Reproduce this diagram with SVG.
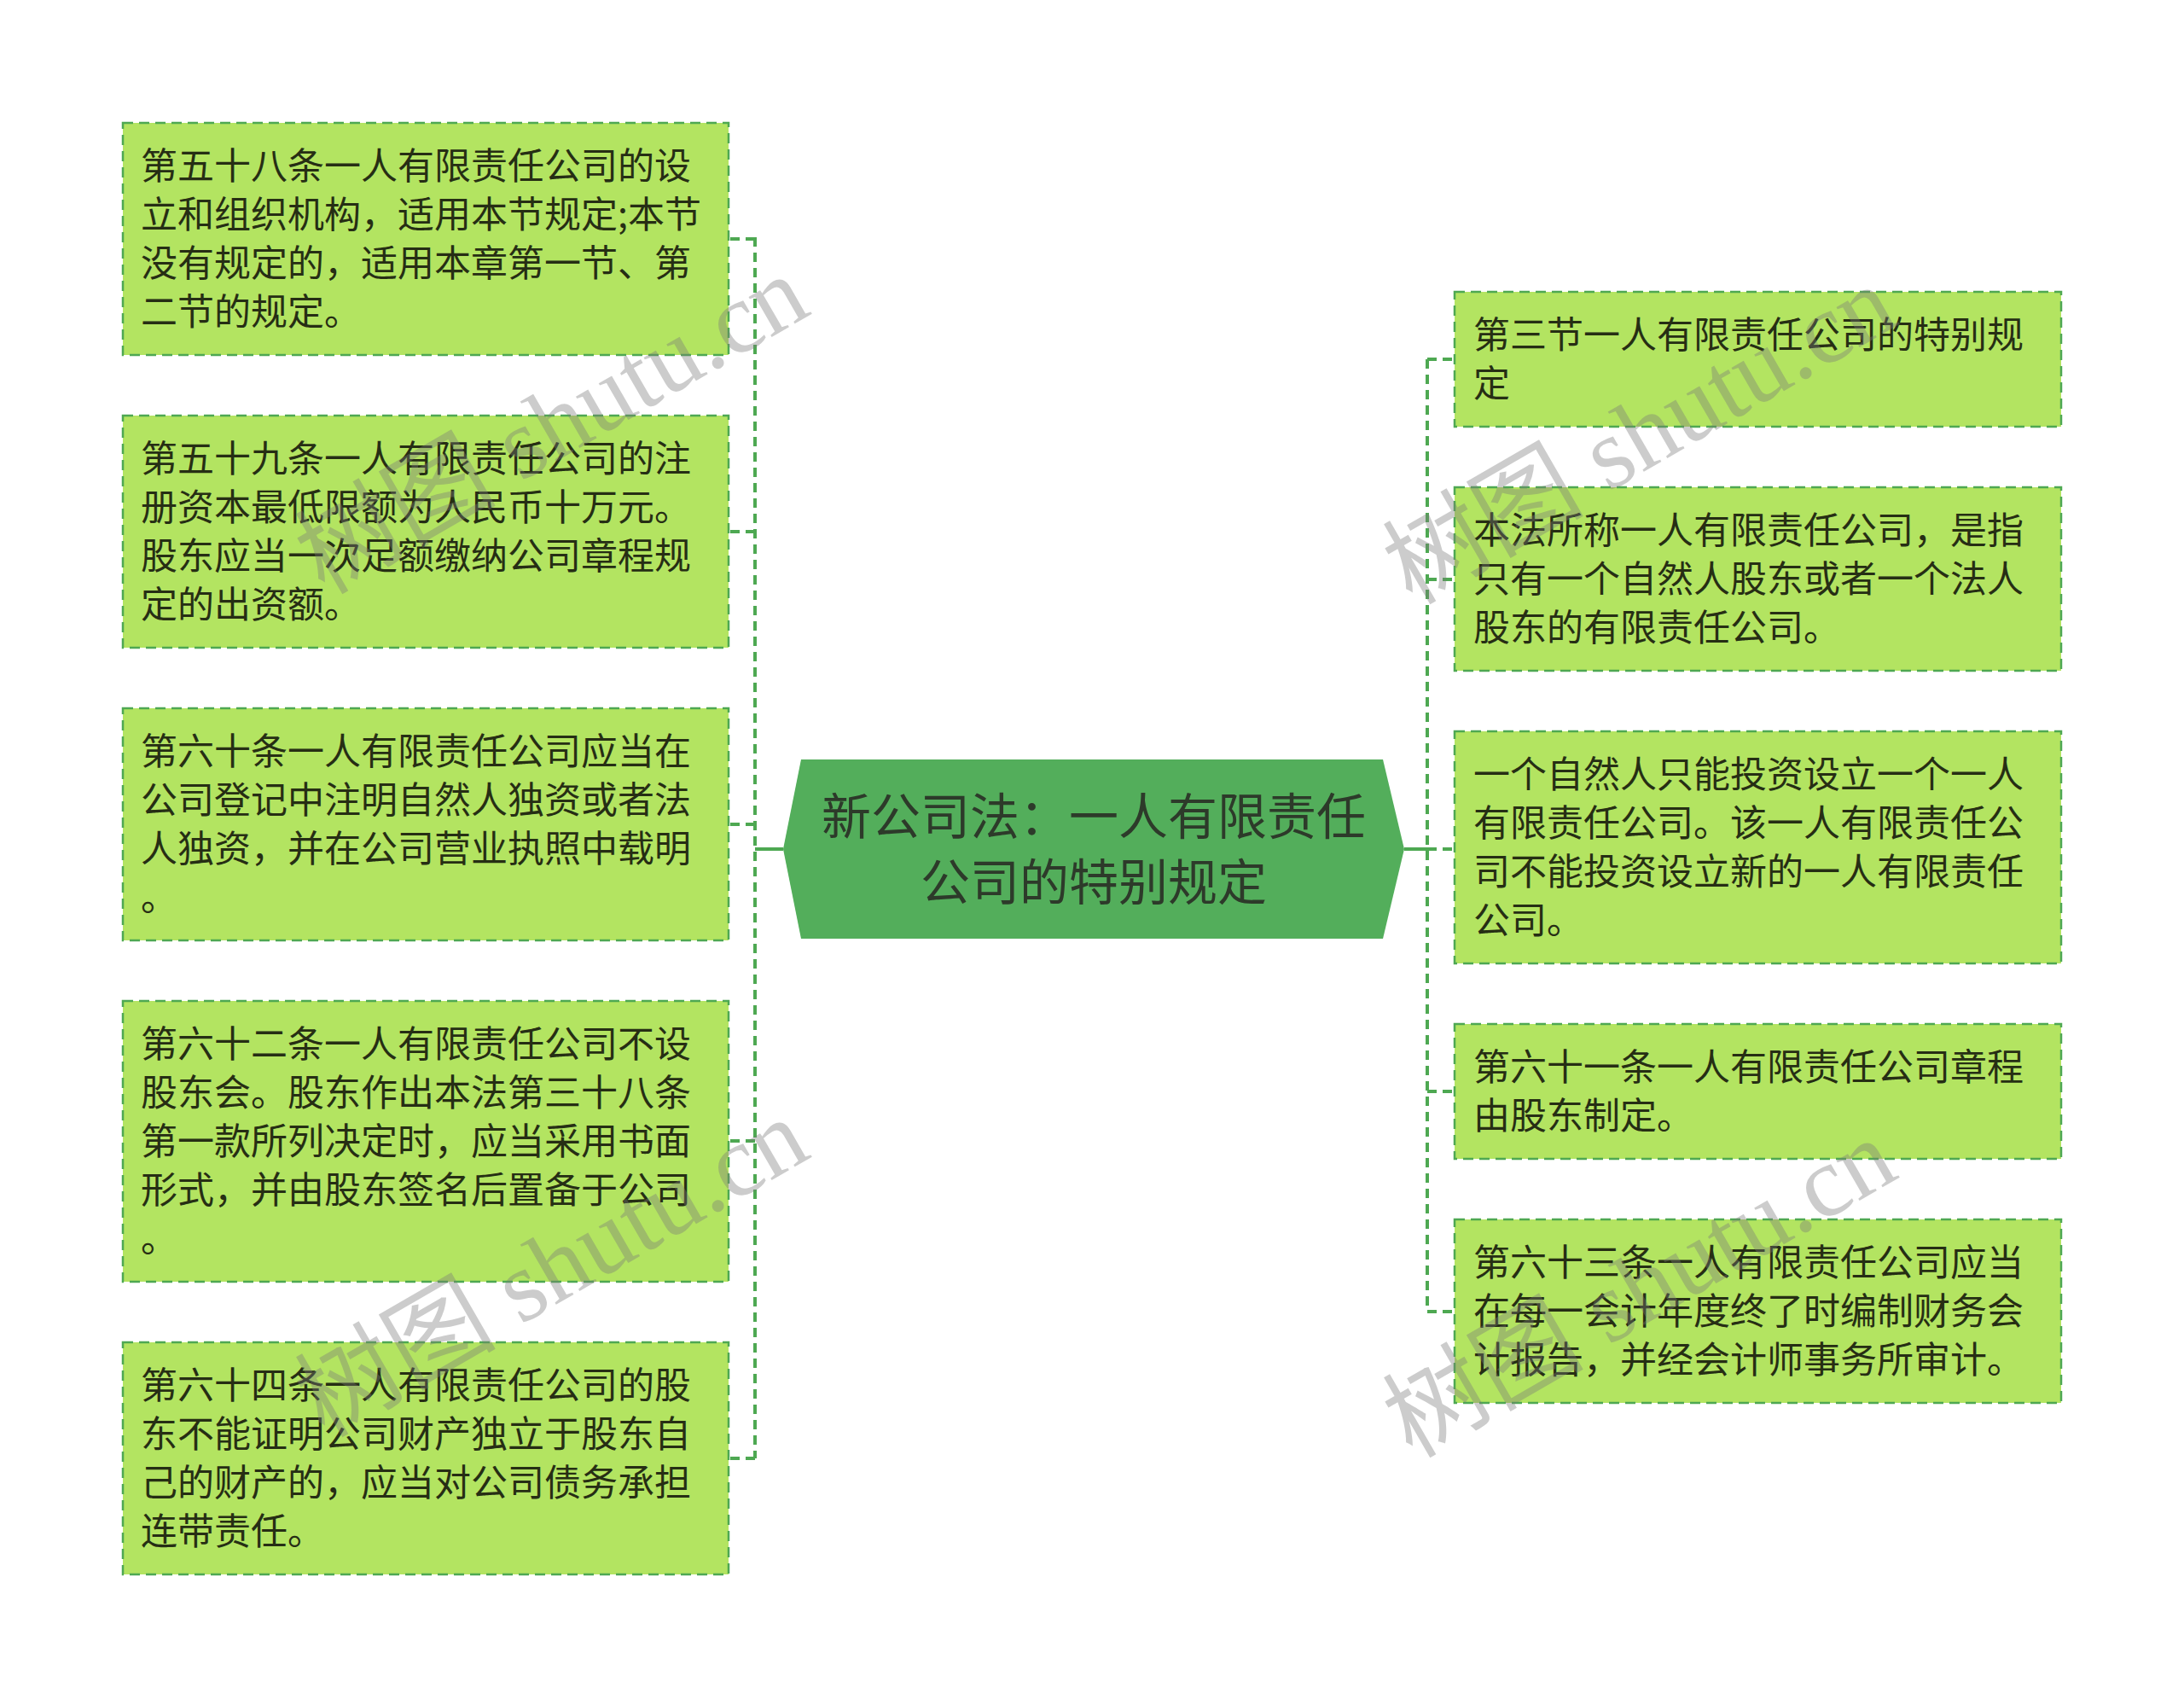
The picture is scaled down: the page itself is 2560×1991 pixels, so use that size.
<svg xmlns="http://www.w3.org/2000/svg" width="2560" height="1991" viewBox="0 0 2560 1991">
<style>
.box{fill:#b3e461;stroke:#4ea852;stroke-width:2.5;stroke-dasharray:12 7}
.t{font-family:"Noto Sans CJK SC","Noto Sans",sans-serif;font-size:43px;fill:#262e14;dominant-baseline:central}
.ct{font-family:"Noto Sans CJK SC","Noto Sans",sans-serif;font-size:58px;fill:#2d3a2a;dominant-baseline:central;text-anchor:middle}
.dash{fill:none;stroke:#4ea852;stroke-width:4;stroke-dasharray:11 7}
.solid{fill:none;stroke:#4ea852;stroke-width:4}
.wm{font-family:"Liberation Serif","Noto Sans CJK SC",serif;font-size:118px;fill:#7a7a7a;fill-opacity:0.38;text-anchor:middle;dominant-baseline:central}
</style>
<rect width="2560" height="1991" fill="#ffffff"/>
<g id="connectors">
<path class="solid" d="M918,995 H885"/>
<path class="dash" d="M885,278 V1709"/>
<path class="dash" d="M885,280 H854 M885,623 H854 M885,966 H854 M885,1337 H854 M885,1709 H854"/>
<path class="solid" d="M1646,995 H1673"/>
<path class="dash" d="M1673,421 V1537"/>
<path class="dash" d="M1673,421 H1705 M1673,679 H1705 M1673,995 H1705 M1673,1279 H1705 M1673,1537 H1705"/>
</g>
<g id="center">
<polygon points="939,890 1621,890 1646,995 1621,1100 939,1100 918,995" fill="#53ae5b"/>
<text class="ct" x="1282" y="953">新公司法：一人有限责任</text>
<text class="ct" x="1282" y="1030">公司的特别规定</text>
</g>
<g id="L1">
<rect class="box" x="144" y="144" width="710" height="272"/>
<text class="t" x="165" y="190.5">第五十八条一人有限责任公司的设</text>
<text class="t" x="165" y="247.5">立和组织机构，适用本节规定;本节</text>
<text class="t" x="165" y="304.5">没有规定的，适用本章第一节、第</text>
<text class="t" x="165" y="361.5">二节的规定。</text>
</g>
<g id="L2">
<rect class="box" x="144" y="487" width="710" height="272"/>
<text class="t" x="165" y="533.5">第五十九条一人有限责任公司的注</text>
<text class="t" x="165" y="590.5">册资本最低限额为人民币十万元。</text>
<text class="t" x="165" y="647.5">股东应当一次足额缴纳公司章程规</text>
<text class="t" x="165" y="704.5">定的出资额。</text>
</g>
<g id="L3">
<rect class="box" x="144" y="830" width="710" height="272"/>
<text class="t" x="165" y="876.5">第六十条一人有限责任公司应当在</text>
<text class="t" x="165" y="933.5">公司登记中注明自然人独资或者法</text>
<text class="t" x="165" y="990.5">人独资，并在公司营业执照中载明</text>
<text class="t" x="165" y="1047.5">。</text>
</g>
<g id="L4">
<rect class="box" x="144" y="1173" width="710" height="329"/>
<text class="t" x="165" y="1219.5">第六十二条一人有限责任公司不设</text>
<text class="t" x="165" y="1276.5">股东会。股东作出本法第三十八条</text>
<text class="t" x="165" y="1333.5">第一款所列决定时，应当采用书面</text>
<text class="t" x="165" y="1390.5">形式，并由股东签名后置备于公司</text>
<text class="t" x="165" y="1447.5">。</text>
</g>
<g id="L5">
<rect class="box" x="144" y="1573" width="710" height="272"/>
<text class="t" x="165" y="1619.5">第六十四条一人有限责任公司的股</text>
<text class="t" x="165" y="1676.5">东不能证明公司财产独立于股东自</text>
<text class="t" x="165" y="1733.5">己的财产的，应当对公司债务承担</text>
<text class="t" x="165" y="1790.5">连带责任。</text>
</g>
<g id="R1">
<rect class="box" x="1705" y="342" width="711" height="158"/>
<text class="t" x="1727" y="388.5">第三节一人有限责任公司的特别规</text>
<text class="t" x="1727" y="445.5">定</text>
</g>
<g id="R2">
<rect class="box" x="1705" y="571" width="711" height="215"/>
<text class="t" x="1727" y="617.5">本法所称一人有限责任公司，是指</text>
<text class="t" x="1727" y="674.5">只有一个自然人股东或者一个法人</text>
<text class="t" x="1727" y="731.5">股东的有限责任公司。</text>
</g>
<g id="R3">
<rect class="box" x="1705" y="857" width="711" height="272"/>
<text class="t" x="1727" y="903.5">一个自然人只能投资设立一个一人</text>
<text class="t" x="1727" y="960.5">有限责任公司。该一人有限责任公</text>
<text class="t" x="1727" y="1017.5">司不能投资设立新的一人有限责任</text>
<text class="t" x="1727" y="1074.5">公司。</text>
</g>
<g id="R4">
<rect class="box" x="1705" y="1200" width="711" height="158"/>
<text class="t" x="1727" y="1246.5">第六十一条一人有限责任公司章程</text>
<text class="t" x="1727" y="1303.5">由股东制定。</text>
</g>
<g id="R5">
<rect class="box" x="1705" y="1429" width="711" height="215"/>
<text class="t" x="1727" y="1475.5">第六十三条一人有限责任公司应当</text>
<text class="t" x="1727" y="1532.5">在每一会计年度终了时编制财务会</text>
<text class="t" x="1727" y="1589.5">计报告，并经会计师事务所审计。</text>
</g>
<g id="watermarks">
<text class="wm" transform="translate(647,498) rotate(-30)">树图 shutu.cn</text>
<text class="wm" transform="translate(647,1486) rotate(-30)">树图 shutu.cn</text>
<text class="wm" transform="translate(1922,510) rotate(-30)">树图 shutu.cn</text>
<text class="wm" transform="translate(1922,1510) rotate(-30)">树图 shutu.cn</text>
</g>
</svg>
